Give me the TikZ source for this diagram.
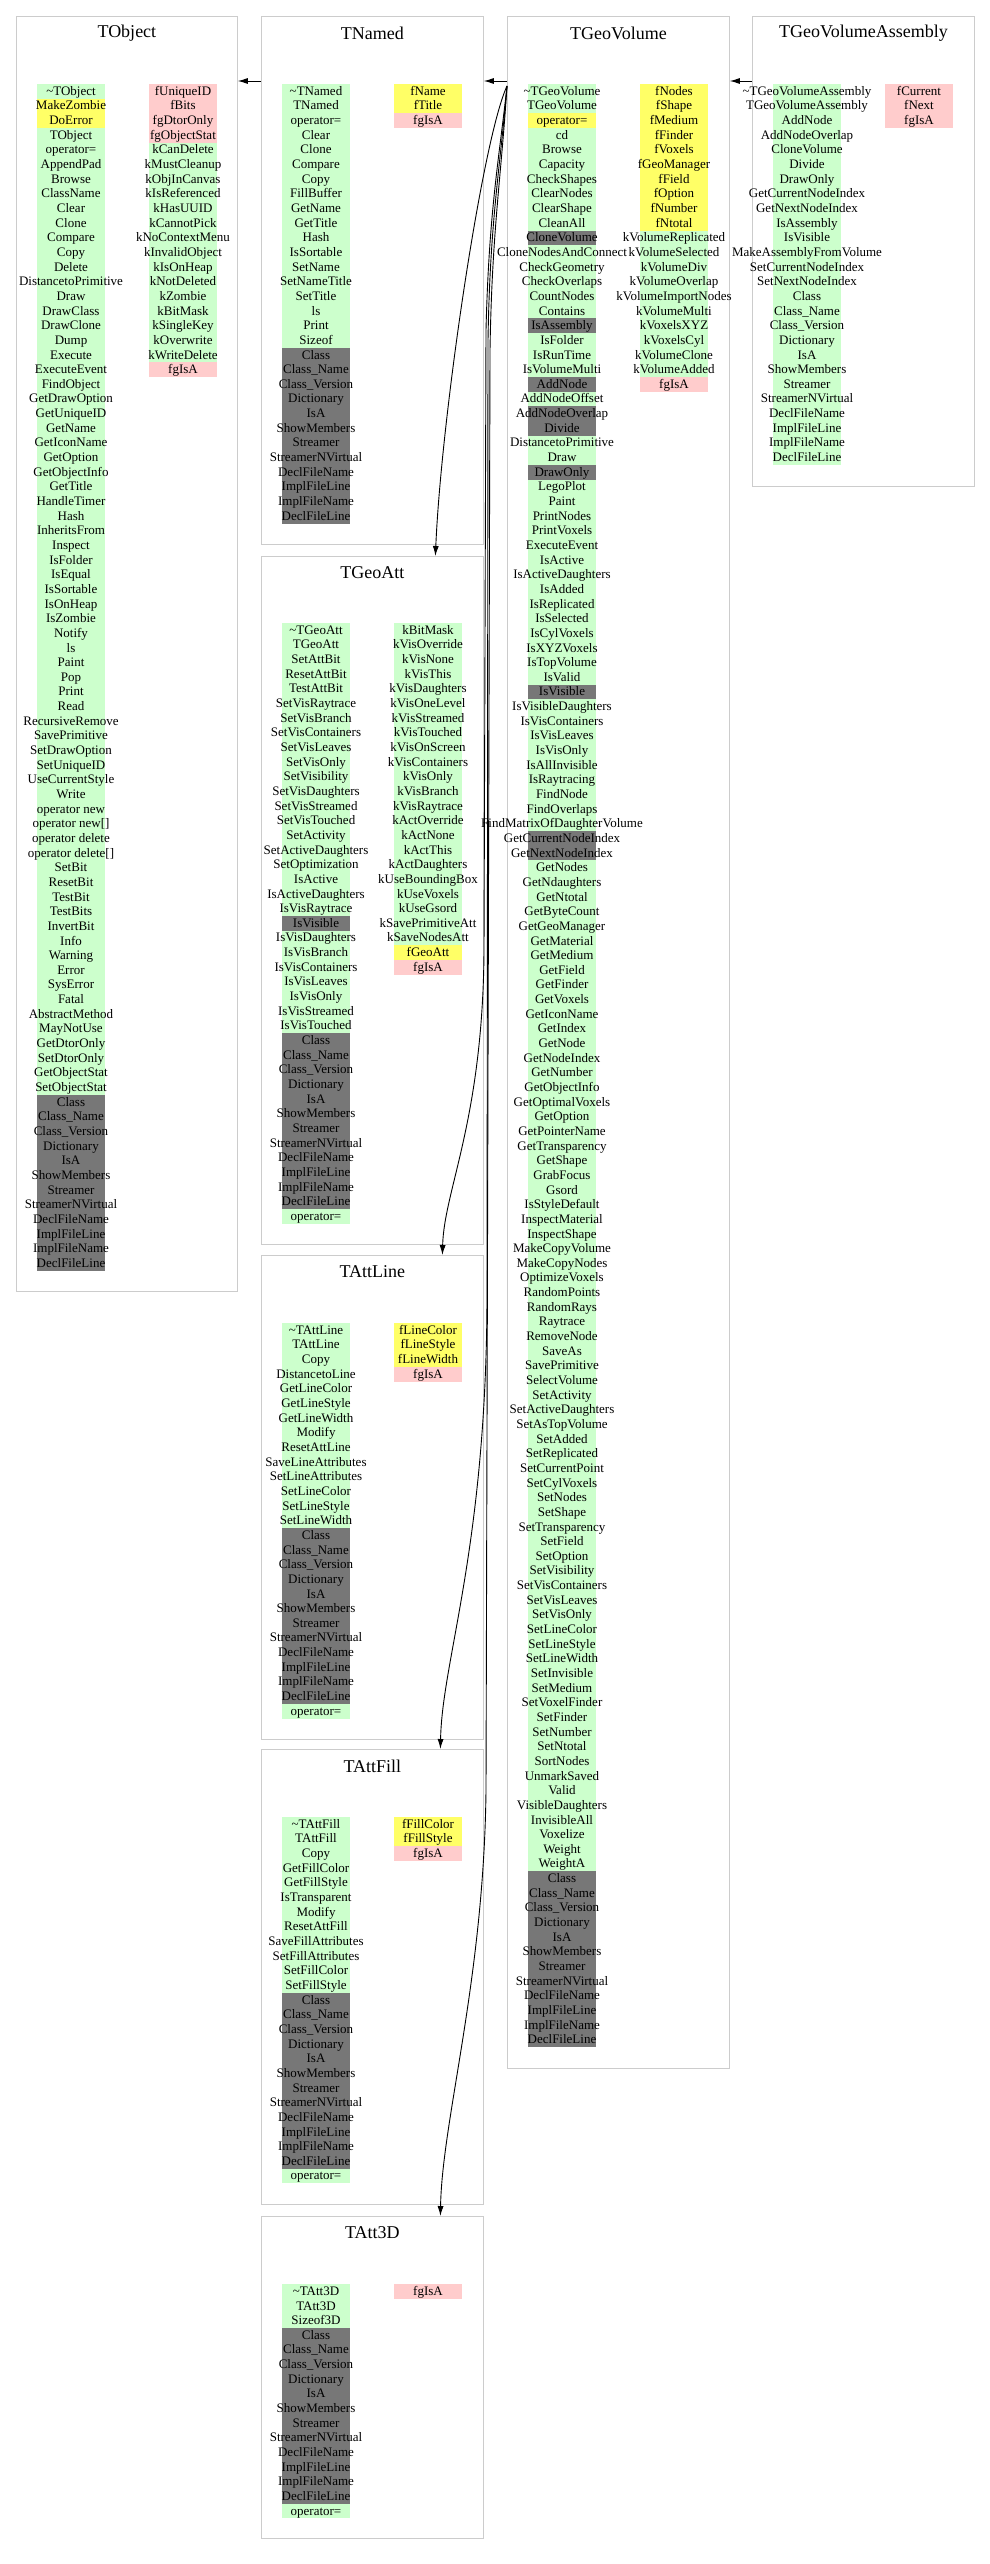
\documentclass[tikz,border=0pt]{standalone}
\usepackage{fontspec}
\setmainfont{Liberation Serif}
\usetikzlibrary{arrows.meta}

\definecolor{gr}{HTML}{CCFFCC}
\definecolor{ye}{HTML}{FFFF66}
\definecolor{pk}{HTML}{FFCCCC}
\definecolor{dk}{HTML}{777777}
\definecolor{boxline}{HTML}{CCCCCC}

\def\rowh{14.65}
% coloured bands behind a column: centre x, top of first row, colour/from/to
\newcommand{\bands}[3]{\foreach \c/\a/\b in {#3}
  \fill[fill=\c] ({#1-34},{#2+(\a-1)*\rowh}) rectangle ({#1+34},{#2+\b*\rowh});}
% member names of a column: prefix, centre x, top of first row, names
\newcommand{\members}[4]{\foreach \t [count=\i] in {#4}
  \node[member] (#1\i) at (#2,{#3+(\i-.5)*\rowh}) {\t};}

\begin{document}
\begin{tikzpicture}[x=1pt,y=-1pt,>={Latex[length=10pt,width=6pt]},
  classbox/.style={draw=boxline,line width=.8pt,inner sep=0pt,anchor=north west},
  title/.style={font=\fontsize{18}{20}\selectfont,inner sep=0pt},
  member/.style={font=\fontsize{13}{15}\selectfont,inner sep=0pt,text height=9pt,text depth=1pt},
  edge/.style={->,line width=.9pt}]
\useasboundingbox (0,0) rectangle (989,2564);

% class frames
\node[classbox,minimum width=221pt,minimum height=1275pt] (tobject) at (16,16) {};
\node[classbox,minimum width=222pt,minimum height=528pt] (tnamed) at (261,16) {};
\node[classbox,minimum width=222pt,minimum height=2052pt] (geovol) at (507,16) {};
\node[classbox,minimum width=222pt,minimum height=470pt] (assembly) at (752,16) {};
\node[classbox,minimum width=222pt,minimum height=688pt] (geoatt) at (261,556) {};
\node[classbox,minimum width=222pt,minimum height=484pt] (attline) at (261,1255) {};
\node[classbox,minimum width=222pt,minimum height=455pt] (attfill) at (261,1749) {};
\node[classbox,minimum width=222pt,minimum height=322pt] (att3d) at (261,2216) {};

\node[title] (tobject-t) at ([yshift=-17pt]tobject.north) {TObject};
\node[title] (tnamed-t) at ([yshift=-17pt]tnamed.north) {TNamed};
\node[title] (geovol-t) at ([yshift=-17pt]geovol.north) {TGeoVolume};
\node[title] (assembly-t) at ([yshift=-17pt]assembly.north) {TGeoVolumeAssembly};
\node[title] (geoatt-t) at ([yshift=-17pt]geoatt.north) {TGeoAtt};
\node[title] (attline-t) at ([yshift=-17pt]attline.north) {TAttLine};
\node[title] (attfill-t) at ([yshift=-17pt]attfill.north) {TAttFill};
\node[title] (att3d-t) at ([yshift=-17pt]att3d.north) {TAtt3D};

% TObject
\bands{71}{84}{gr/1/1,ye/2/3,gr/4/69,dk/70/81}
\members{tobjm}{71}{84}{\textasciitilde TObject,MakeZombie,DoError,TObject,operator=,AppendPad,Browse,ClassName,Clear,Clone,Compare,Copy,Delete,DistancetoPrimitive,Draw,DrawClass,DrawClone,Dump,Execute,ExecuteEvent,FindObject,GetDrawOption,GetUniqueID,GetName,GetIconName,GetOption,GetObjectInfo,GetTitle,HandleTimer,Hash,InheritsFrom,Inspect,IsFolder,IsEqual,IsSortable,IsOnHeap,IsZombie,Notify,ls,Paint,Pop,Print,Read,RecursiveRemove,SavePrimitive,SetDrawOption,SetUniqueID,UseCurrentStyle,Write,operator new,operator new[],operator delete,operator delete[],SetBit,ResetBit,TestBit,TestBits,InvertBit,Info,Warning,Error,SysError,Fatal,AbstractMethod,MayNotUse,GetDtorOnly,SetDtorOnly,GetObjectStat,SetObjectStat,Class,Class\_Name,Class\_Version,Dictionary,IsA,ShowMembers,Streamer,StreamerNVirtual,DeclFileName,ImplFileLine,ImplFileName,DeclFileLine}
\bands{183}{84}{pk/1/4,gr/5/19,pk/20/20}
\members{tobjd}{183}{84}{fUniqueID,fBits,fgDtorOnly,fgObjectStat,kCanDelete,kMustCleanup,kObjInCanvas,kIsReferenced,kHasUUID,kCannotPick,kNoContextMenu,kInvalidObject,kIsOnHeap,kNotDeleted,kZombie,kBitMask,kSingleKey,kOverwrite,kWriteDelete,fgIsA}

% TNamed
\bands{316}{84}{gr/1/18,dk/19/30}
\members{tnamm}{316}{84}{\textasciitilde TNamed,TNamed,operator=,Clear,Clone,Compare,Copy,FillBuffer,GetName,GetTitle,Hash,IsSortable,SetName,SetNameTitle,SetTitle,ls,Print,Sizeof,Class,Class\_Name,Class\_Version,Dictionary,IsA,ShowMembers,Streamer,StreamerNVirtual,DeclFileName,ImplFileLine,ImplFileName,DeclFileLine}
\bands{428}{84}{ye/1/2,pk/3/3}
\members{tnamd}{428}{84}{fName,fTitle,fgIsA}

% TGeoVolume
\bands{562}{84}{gr/1/2,ye/3/3,gr/4/10,dk/11/11,gr/12/16,dk/17/17,gr/18/20,dk/21/21,gr/22/22,dk/23/24,gr/25/26,dk/27/27,gr/28/41,dk/42/42,gr/43/51,dk/52/53,gr/54/122,dk/123/134}
\members{volm}{562}{84}{\textasciitilde TGeoVolume,TGeoVolume,operator=,cd,Browse,Capacity,CheckShapes,ClearNodes,ClearShape,CleanAll,CloneVolume,CloneNodesAndConnect,CheckGeometry,CheckOverlaps,CountNodes,Contains,IsAssembly,IsFolder,IsRunTime,IsVolumeMulti,AddNode,AddNodeOffset,AddNodeOverlap,Divide,DistancetoPrimitive,Draw,DrawOnly,LegoPlot,Paint,PrintNodes,PrintVoxels,ExecuteEvent,IsActive,IsActiveDaughters,IsAdded,IsReplicated,IsSelected,IsCylVoxels,IsXYZVoxels,IsTopVolume,IsValid,IsVisible,IsVisibleDaughters,IsVisContainers,IsVisLeaves,IsVisOnly,IsAllInvisible,IsRaytracing,FindNode,FindOverlaps,FindMatrixOfDaughterVolume,GetCurrentNodeIndex,GetNextNodeIndex,GetNodes,GetNdaughters,GetNtotal,GetByteCount,GetGeoManager,GetMaterial,GetMedium,GetField,GetFinder,GetVoxels,GetIconName,GetIndex,GetNode,GetNodeIndex,GetNumber,GetObjectInfo,GetOptimalVoxels,GetOption,GetPointerName,GetTransparency,GetShape,GrabFocus,Gsord,IsStyleDefault,InspectMaterial,InspectShape,MakeCopyVolume,MakeCopyNodes,OptimizeVoxels,RandomPoints,RandomRays,Raytrace,RemoveNode,SaveAs,SavePrimitive,SelectVolume,SetActivity,SetActiveDaughters,SetAsTopVolume,SetAdded,SetReplicated,SetCurrentPoint,SetCylVoxels,SetNodes,SetShape,SetTransparency,SetField,SetOption,SetVisibility,SetVisContainers,SetVisLeaves,SetVisOnly,SetLineColor,SetLineStyle,SetLineWidth,SetInvisible,SetMedium,SetVoxelFinder,SetFinder,SetNumber,SetNtotal,SortNodes,UnmarkSaved,Valid,VisibleDaughters,InvisibleAll,Voxelize,Weight,WeightA,Class,Class\_Name,Class\_Version,Dictionary,IsA,ShowMembers,Streamer,StreamerNVirtual,DeclFileName,ImplFileLine,ImplFileName,DeclFileLine}
\bands{674}{84}{ye/1/10,gr/11/20,pk/21/21}
\members{vold}{674}{84}{fNodes,fShape,fMedium,fFinder,fVoxels,fGeoManager,fField,fOption,fNumber,fNtotal,kVolumeReplicated,kVolumeSelected,kVolumeDiv,kVolumeOverlap,kVolumeImportNodes,kVolumeMulti,kVoxelsXYZ,kVoxelsCyl,kVolumeClone,kVolumeAdded,fgIsA}

% TGeoVolumeAssembly
\bands{807}{84}{gr/1/26}
\members{asmm}{807}{84}{\textasciitilde TGeoVolumeAssembly,TGeoVolumeAssembly,AddNode,AddNodeOverlap,CloneVolume,Divide,DrawOnly,GetCurrentNodeIndex,GetNextNodeIndex,IsAssembly,IsVisible,MakeAssemblyFromVolume,SetCurrentNodeIndex,SetNextNodeIndex,Class,Class\_Name,Class\_Version,Dictionary,IsA,ShowMembers,Streamer,StreamerNVirtual,DeclFileName,ImplFileLine,ImplFileName,DeclFileLine}
\bands{919}{84}{pk/1/3}
\members{asmd}{919}{84}{fCurrent,fNext,fgIsA}

% TGeoAtt
\bands{316}{623}{gr/1/20,dk/21/21,gr/22/28,dk/29/40,gr/41/41}
\members{attm}{316}{623}{\textasciitilde TGeoAtt,TGeoAtt,SetAttBit,ResetAttBit,TestAttBit,SetVisRaytrace,SetVisBranch,SetVisContainers,SetVisLeaves,SetVisOnly,SetVisibility,SetVisDaughters,SetVisStreamed,SetVisTouched,SetActivity,SetActiveDaughters,SetOptimization,IsActive,IsActiveDaughters,IsVisRaytrace,IsVisible,IsVisDaughters,IsVisBranch,IsVisContainers,IsVisLeaves,IsVisOnly,IsVisStreamed,IsVisTouched,Class,Class\_Name,Class\_Version,Dictionary,IsA,ShowMembers,Streamer,StreamerNVirtual,DeclFileName,ImplFileLine,ImplFileName,DeclFileLine,operator=}
\bands{428}{623}{gr/1/22,ye/23/23,pk/24/24}
\members{attd}{428}{623}{kBitMask,kVisOverride,kVisNone,kVisThis,kVisDaughters,kVisOneLevel,kVisStreamed,kVisTouched,kVisOnScreen,kVisContainers,kVisOnly,kVisBranch,kVisRaytrace,kActOverride,kActNone,kActThis,kActDaughters,kUseBoundingBox,kUseVoxels,kUseGsord,kSavePrimitiveAtt,kSaveNodesAtt,fGeoAtt,fgIsA}

% TAttLine
\bands{316}{1323}{gr/1/14,dk/15/26,gr/27/27}
\members{linm}{316}{1323}{\textasciitilde TAttLine,TAttLine,Copy,DistancetoLine,GetLineColor,GetLineStyle,GetLineWidth,Modify,ResetAttLine,SaveLineAttributes,SetLineAttributes,SetLineColor,SetLineStyle,SetLineWidth,Class,Class\_Name,Class\_Version,Dictionary,IsA,ShowMembers,Streamer,StreamerNVirtual,DeclFileName,ImplFileLine,ImplFileName,DeclFileLine,operator=}
\bands{428}{1323}{ye/1/3,pk/4/4}
\members{lind}{428}{1323}{fLineColor,fLineStyle,fLineWidth,fgIsA}

% TAttFill
\bands{316}{1817}{gr/1/12,dk/13/24,gr/25/25}
\members{film}{316}{1817}{\textasciitilde TAttFill,TAttFill,Copy,GetFillColor,GetFillStyle,IsTransparent,Modify,ResetAttFill,SaveFillAttributes,SetFillAttributes,SetFillColor,SetFillStyle,Class,Class\_Name,Class\_Version,Dictionary,IsA,ShowMembers,Streamer,StreamerNVirtual,DeclFileName,ImplFileLine,ImplFileName,DeclFileLine,operator=}
\bands{428}{1817}{ye/1/2,pk/3/3}
\members{fild}{428}{1817}{fFillColor,fFillStyle,fgIsA}

% TAtt3D
\bands{316}{2284}{gr/1/3,dk/4/15,gr/16/16}
\members{a3dm}{316}{2284}{\textasciitilde TAtt3D,TAtt3D,Sizeof3D,Class,Class\_Name,Class\_Version,Dictionary,IsA,ShowMembers,Streamer,StreamerNVirtual,DeclFileName,ImplFileLine,ImplFileName,DeclFileLine,operator=}
\bands{428}{2284}{pk/1/1}
\members{a3dd}{428}{2284}{fgIsA}

% inheritance
\draw[edge] ([yshift=-65pt]tnamed.north west) -- ([yshift=-65pt]tobject.north east);
\draw[edge] ([yshift=-65pt]geovol.north west) -- ([yshift=-65pt]tnamed.north east);
\draw[edge] ([yshift=-65pt]assembly.north west) -- ([yshift=-65pt]geovol.north east);
\coordinate (fan) at ([yshift=-70pt]geovol.north west);
\draw[edge] (fan) .. controls (482,140) and (441,420) .. ([xshift=63pt]geoatt.north);
\draw[edge] (fan) .. controls (499,160) and (489,210) .. (486,330) -- (484,950)
  .. controls (483,1120) and (444,1190) .. ([xshift=70pt]attline.north);
\draw[edge] (fan) .. controls (500,170) and (490,220) .. (488,340) -- (487,1300)
  .. controls (486,1550) and (442,1660) .. ([xshift=68pt]attfill.north);
\draw[edge] (fan) .. controls (501,180) and (492,230) .. (490,350) -- (486,1790)
  .. controls (484,1980) and (442,2120) .. ([xshift=68pt]att3d.north);

\end{tikzpicture}
\end{document}
